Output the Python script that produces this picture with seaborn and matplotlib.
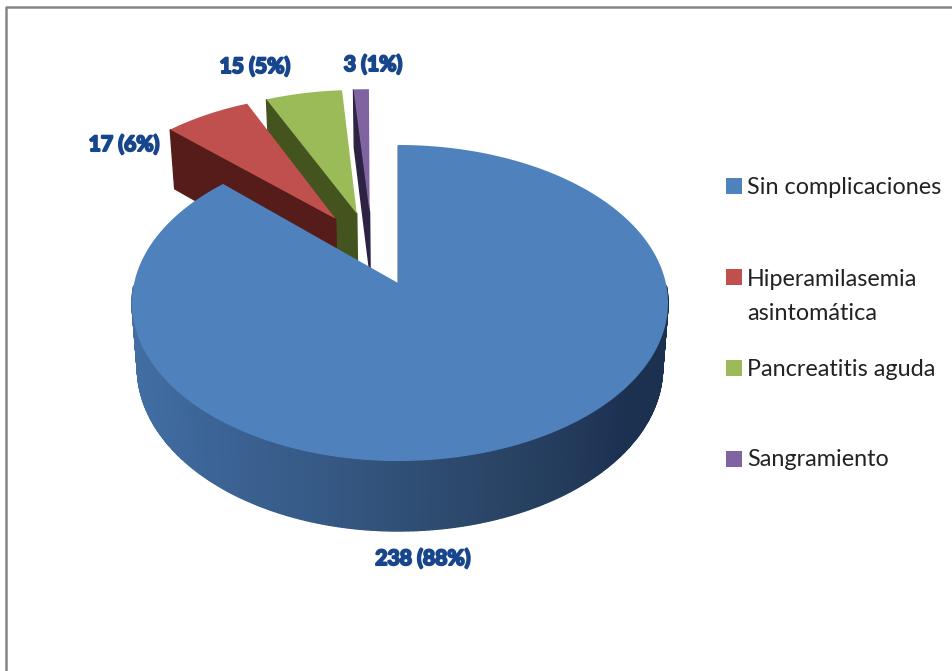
import numpy as np
import matplotlib
matplotlib.use('Agg')
import matplotlib.pyplot as plt
import matplotlib.patheffects as pe
import seaborn as sns

# data
categories = ['Sin complicaciones', 'Hiperamilasemia\nasintomática', 'Pancreatitis aguda', 'Sangramiento']
values = [238, 17, 15, 3]
data_labels = ['238 (88%)', '17 (6%)', '15 (5%)', '3 (1%)']

top_colors = ['#4f81bd', '#c0504d', '#9bbb59', '#8064a2']
wall_colors = ['#1c3050', '#561c1a', '#43541f', '#2c2244']

# pie geometry in pixels, centre = apex of the blue slice
cx, cy = 398, 283
a, b, k = 265.8, 155.5, 0.1266
depth = 64.2
explode = 0.25
lean = 3.5   # back slices drift left a little in the original

label_xy = [(423, 559), (124, 145), (255, 67), (373, 65)]
legend_y = [186, 277, 368, 459]

sns.set_theme(style='white')
plt.rcParams['font.family'] = ['Lato', 'DejaVu Sans']

W, H = 953, 671
fig = plt.figure(figsize=(W / 100, H / 100), dpi=100)
ax = fig.add_axes([0, 0, 1, 1])
ax.set_xlim(0, W)
ax.set_ylim(H, 0)
ax.axis('off')


def project(u, v, bottom=False, back=False):
    # perspective view of the pie plane
    u, v = np.asarray(u, float), np.asarray(v, float)
    w = 1 + k * v
    s = 0.98 if bottom else 1.0
    d = depth if bottom else 0.0
    if back:
        x = cx + a * s * u / w - lean * v
    else:
        # the blue disc is slightly wider on the right
        x = cx + a * s * u * np.where(u < 0, 0.9925, 1.0075) / w
    return x, cy + (d - b * s * v) / w


def quad(p0, p1, color, zorder, back=False):
    x0, y0 = project(*p0, back=back)
    x1, y1 = project(*p1, back=back)
    x2, y2 = project(*p1, bottom=True, back=back)
    x3, y3 = project(*p0, bottom=True, back=back)
    ax.fill([x0, x1, x2, x3], [y0, y1, y2, y3], color=color, lw=1, zorder=zorder)


# slice angles, clockwise from the top
fracs = np.array(values) / sum(values)
ends = 90 - 360 * np.cumsum(fracs)
starts = ends + 360 * fracs
mids = np.radians((starts + ends) / 2)

# blue slice sits at the plane origin, the true pie centre is opposite its offset
oc = -explode * np.array([np.cos(mids[0]), np.sin(mids[0])])

# draw back to front
for i in [3, 2, 1, 0]:
    apex = oc + explode * np.array([np.cos(mids[i]), np.sin(mids[i])])
    if i == 0:
        apex = np.zeros(2)
    th = np.radians(np.linspace(starts[i], ends[i], 400))
    us = apex[0] + np.cos(th)
    vs = apex[1] + np.sin(th)
    z = 2 + (3 - i) * 3

    if i == 0:
        # thin wall along the vertical edge, then the shaded rim
        quad(apex, (us[0], vs[0]), wall_colors[0], z)
        front = np.radians(np.linspace(181, 359, 357))
        shades = sns.blend_palette(['#4571a8', '#3f6a9e', '#375b88', '#2a4566', '#1c3050', '#1c3050'], len(front))
        for j in range(len(front) - 1):
            p0 = (apex[0] + np.cos(front[j]), apex[1] + np.sin(front[j]))
            p1 = (apex[0] + np.cos(front[j + 1]), apex[1] + np.sin(front[j + 1]))
            quad(p0, p1, shades[j], z)
    else:
        # radial wall on the left side of the slice
        ang = np.radians(starts[i])
        quad(apex, (apex[0] + np.cos(ang), apex[1] + np.sin(ang)), wall_colors[i], z, back=True)

    px, py = project(np.r_[apex[0], us], np.r_[apex[1], vs], back=i > 0)
    ax.fill(px, py, color=top_colors[i], lw=0, zorder=z + 1)

# outer frame of the picture
ax.plot([6.5, 6.5, W], [H, 7, 7], color='#868686', lw=1.8, zorder=1)

# data labels
for txt, (x, y) in zip(data_labels, label_xy):
    t = ax.text(x, y, txt, ha='center', va='center', fontsize=15.2, fontweight='bold',
                color='#17468c', zorder=20)
    t.set_path_effects([pe.withStroke(linewidth=1.5, foreground='#17468c')])

# legend
sns.scatterplot(x=[734] * 4, y=legend_y, hue=categories, palette=top_colors, marker='s',
                s=130, linewidth=0, legend=False, ax=ax, zorder=20)
for name, y in zip(categories, legend_y):
    if '\n' in name:
        ax.text(747, y + 19.5, name, ha='left', va='center', fontsize=16.8, color='#222222',
                linespacing=1.72, zorder=20)
    else:
        ax.text(747, y + 1, name, ha='left', va='center', fontsize=16.8, color='#222222', zorder=20)

ax.set_xlim(0, W)
ax.set_ylim(H, 0)
fig.savefig('out.png', dpi=100, facecolor='white')
